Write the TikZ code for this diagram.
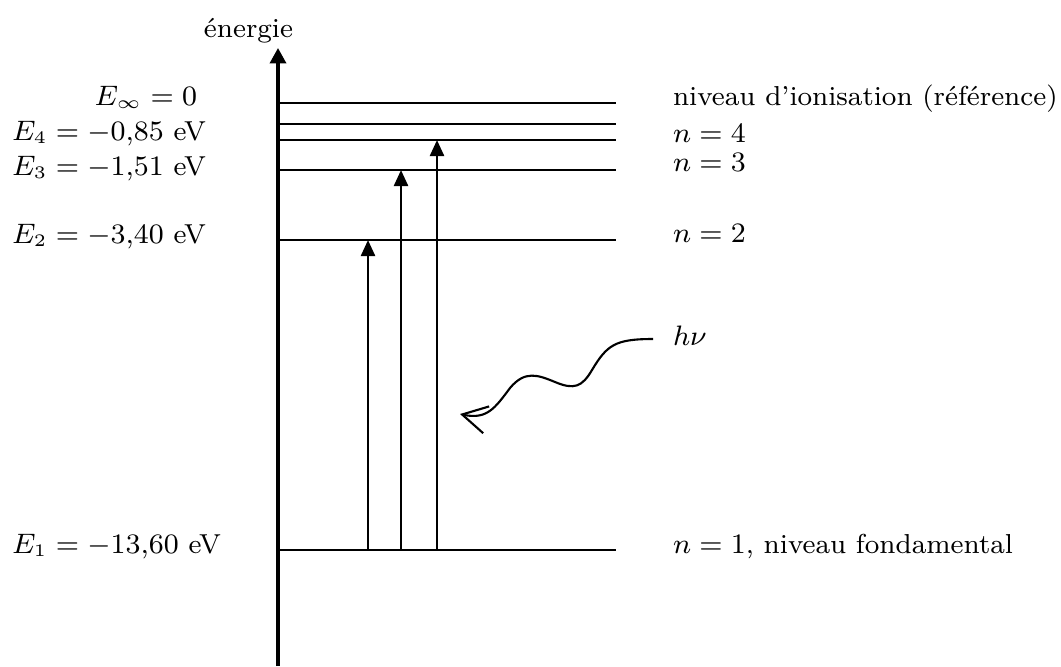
\documentclass[tikz,border=0pt]{standalone}
\usepackage{xcolor}
\usepackage{tikz}
\usetikzlibrary{arrows.meta,positioning,calc}

\begin{document}
\begin{tikzpicture}[
  x=0.01cm, y=-0.01cm,
  font=\fontsize{7.8}{9.4}\selectfont,
  lbl/.style={inner sep=0pt, outer sep=0pt},
  axe/.style={line width=0.9pt, -{Triangle[width=4.6pt,length=4.4pt]}},
  lvl/.style={line width=0.6pt},
  trans/.style={line width=0.75pt, -{Triangle[width=4pt,length=4.6pt]}},
  photon/.style={line width=0.6pt, -{Straight Barb[length=7pt,width=7.8pt]}}
]
\useasboundingbox (0,0) rectangle (1061,666);
% axe des energies
\coordinate (bas) at (278,666);
\coordinate (haut) at (278,48);
\draw[axe] (bas) -- (haut);
\node[lbl, anchor=base east] (energie) at (293,37) {énergie};
% niveaux
\foreach \y/\niv in {103/inf,124/cinq,140/quatre,170/trois,240/deux,550/un}
  \draw[lvl] (278,\y) coordinate (g-\niv) -- (616,\y) coordinate (d-\niv);
% transitions
\foreach \x/\niv in {368/deux,401/trois,437/quatre}
  \draw[trans] (\x,0 |- g-un) -- (\x,0 |- g-\niv);
% photon
\coordinate (ph-a) at (653,339);
\coordinate (ph-b) at (460,414);
\draw[photon] (ph-a) .. controls (615,339) and (607,345) .. (592,370)
  .. controls (582,387) and (574,390) .. (555,382)
  .. controls (538,375) and (525,370) .. (510,388)
  .. controls (495,408) and (487,420) .. (ph-b);
% energies
\node[lbl, anchor=base east] (einf) at (197,105) {$E_\infty = 0$};
\node[lbl, anchor=base west] (e4) at (12,140) {$E_4 = -0{,}85$ eV};
\node[lbl, anchor=base west] (e3) at (12,175) {$E_3 = -1{,}51$ eV};
\node[lbl, anchor=base west] (e2) at (12,243) {$E_2 = -3{,}40$ eV};
\node[lbl, anchor=base west] (e1) at (12,553) {$E_1 = -13{,}60$ eV};
% noms des niveaux
\node[lbl, anchor=base west] (ion) at (673,105) {niveau d'ionisation (référence)};
\node[lbl, anchor=base west] (n4) at (673,142) {$n = 4$};
\node[lbl, anchor=base west] (n3) at (673,171) {$n = 3$};
\node[lbl, anchor=base west] (n2) at (673,242) {$n = 2$};
\node[lbl, anchor=base west] (hnu) at (673,345) {$h\nu$};
\node[lbl, anchor=base west] (n1) at (673,553) {$n = 1$, niveau fondamental};
\end{tikzpicture}
\end{document}
